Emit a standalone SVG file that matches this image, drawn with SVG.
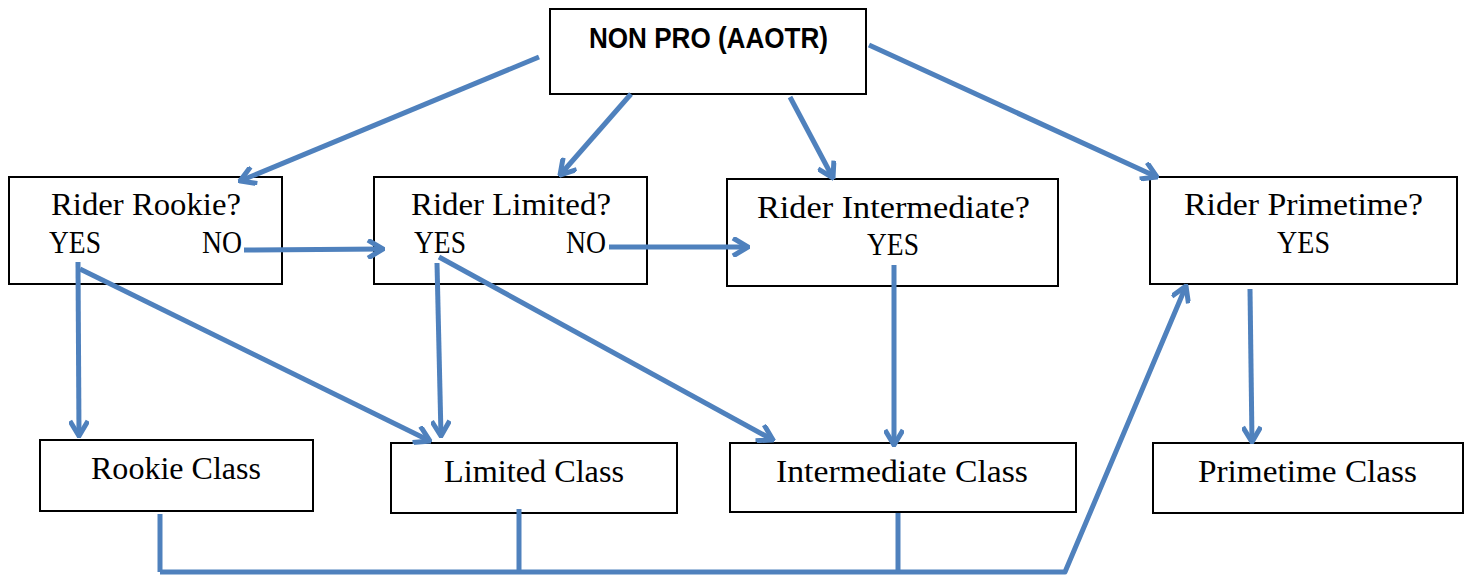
<svg xmlns="http://www.w3.org/2000/svg" width="1470" height="577" viewBox="0 0 1470 577">
<style>
.box{fill:#fff;stroke:#000;stroke-width:2}
.t{font-family:"Liberation Serif","DejaVu Serif",serif;font-size:31px;fill:#000}
.b{font-family:"Liberation Sans","DejaVu Sans",sans-serif;font-size:29px;font-weight:bold;fill:#000}
.c{fill:none;stroke:#4f81bd;stroke-width:5;stroke-linejoin:round}
</style>
<defs>
<marker id="ah" viewBox="0 0 20 20" refX="18" refY="10" markerWidth="20" markerHeight="20" markerUnits="userSpaceOnUse" orient="auto">
<path d="M3,1 L18,10 L3,19" fill="none" stroke="#4f81bd" stroke-width="5" stroke-linejoin="miter"/>
</marker>
</defs>
<rect width="1470" height="577" fill="#fff"/>
<g id="nonpro"><rect class="box" x="550" y="9" width="316" height="85"/><text class="b" x="589" y="48" textLength="239" lengthAdjust="spacingAndGlyphs">NON PRO (AAOTR)</text></g>
<g id="riderRookie"><rect class="box" x="9" y="177" width="273" height="107"/><text class="t" x="51" y="215" textLength="190" lengthAdjust="spacingAndGlyphs">Rider Rookie?</text><text class="t" x="49" y="253" textLength="52" lengthAdjust="spacingAndGlyphs">YES</text><text class="t" x="202" y="253" textLength="40" lengthAdjust="spacingAndGlyphs">NO</text></g>
<g id="riderLimited"><rect class="box" x="374" y="177" width="273" height="107"/><text class="t" x="411" y="215" textLength="200" lengthAdjust="spacingAndGlyphs">Rider Limited?</text><text class="t" x="414" y="253" textLength="52" lengthAdjust="spacingAndGlyphs">YES</text><text class="t" x="566" y="253" textLength="40" lengthAdjust="spacingAndGlyphs">NO</text></g>
<g id="riderIntermediate"><rect class="box" x="727" y="179" width="331" height="107"/><text class="t" x="757" y="218" textLength="273" lengthAdjust="spacingAndGlyphs">Rider Intermediate?</text><text class="t" x="867" y="255" textLength="52" lengthAdjust="spacingAndGlyphs">YES</text></g>
<g id="riderPrimetime"><rect class="box" x="1150" y="177" width="307" height="107"/><text class="t" x="1184" y="215" textLength="239" lengthAdjust="spacingAndGlyphs">Rider Primetime?</text><text class="t" x="1277" y="253" textLength="53" lengthAdjust="spacingAndGlyphs">YES</text></g>
<g id="rookieClass"><rect class="box" x="40" y="440" width="273" height="71"/><text class="t" x="91" y="479" textLength="170" lengthAdjust="spacingAndGlyphs">Rookie Class</text></g>
<g id="limitedClass"><rect class="box" x="391" y="443" width="286" height="70"/><text class="t" x="444" y="482" textLength="180" lengthAdjust="spacingAndGlyphs">Limited Class</text></g>
<g id="intermediateClass"><rect class="box" x="730" y="443" width="346" height="69"/><text class="t" x="776" y="482" textLength="252" lengthAdjust="spacingAndGlyphs">Intermediate Class</text></g>
<g id="primetimeClass"><rect class="box" x="1153" y="443" width="310" height="70"/><text class="t" x="1198" y="482" textLength="219" lengthAdjust="spacingAndGlyphs">Primetime Class</text></g>
<g id="connectors">
<line class="c" x1="539" y1="57" x2="240" y2="181" marker-end="url(#ah)"/>
<line class="c" x1="631" y1="94" x2="560" y2="175" marker-end="url(#ah)"/>
<line class="c" x1="790" y1="97" x2="833" y2="178" marker-end="url(#ah)"/>
<line class="c" x1="869" y1="45" x2="1157" y2="177" marker-end="url(#ah)"/>
<line class="c" x1="244" y1="250" x2="383" y2="249" marker-end="url(#ah)"/>
<line class="c" x1="609" y1="247" x2="748" y2="247" marker-end="url(#ah)"/>
<line class="c" x1="78" y1="262" x2="79" y2="436" marker-end="url(#ah)"/>
<line class="c" x1="80" y1="269" x2="430" y2="441" marker-end="url(#ah)"/>
<line class="c" x1="437" y1="263" x2="441" y2="436" marker-end="url(#ah)"/>
<line class="c" x1="439" y1="257" x2="773" y2="440" marker-end="url(#ah)"/>
<line class="c" x1="894" y1="265" x2="894" y2="445" marker-end="url(#ah)"/>
<line class="c" x1="1250" y1="289" x2="1252" y2="442" marker-end="url(#ah)"/>
<line class="c" x1="160" y1="514" x2="160" y2="572"/>
<line class="c" x1="519" y1="509" x2="519" y2="572"/>
<line class="c" x1="898" y1="513" x2="898" y2="572"/>
<polyline class="c" points="160,572 1065,572 1186,286" marker-end="url(#ah)"/>
</g>
</svg>
